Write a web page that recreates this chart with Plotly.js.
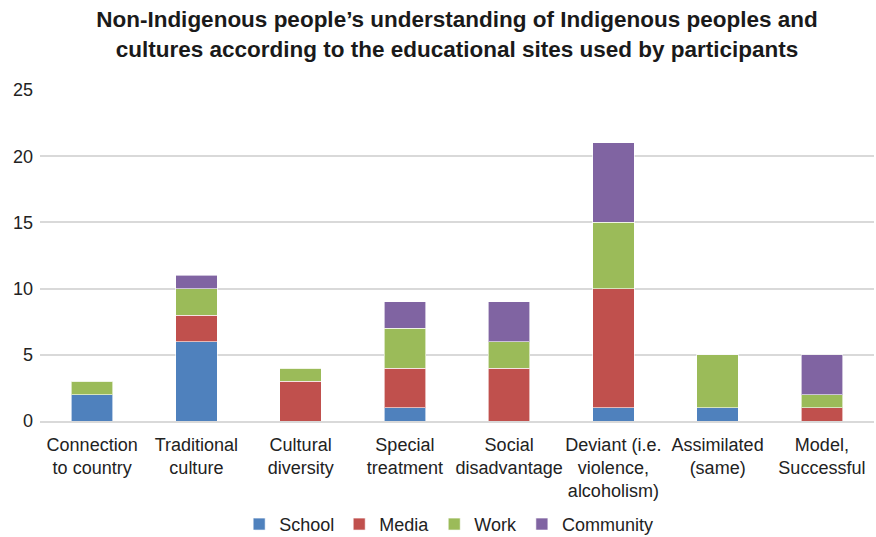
<!DOCTYPE html>
<html><head><meta charset="utf-8">
<script src="https://cdn.plot.ly/plotly-3.0.1.min.js"></script>
<style>html,body{margin:0;padding:0;background:#fff}#chart{width:876px;height:537px}</style>
</head><body><div id="chart"></div>
<script>
const categories = ["Connection<br>to country","Traditional<br>culture","Cultural<br>diversity","Special<br>treatment","Social<br>disadvantage","Deviant (i.e.<br>violence,<br>alcoholism)","Assimilated<br>(same)","Model,<br>Successful"];
const school    = [2,6,0,1,0,1,1,0];
const media     = [0,2,3,3,4,9,0,1];
const work      = [1,2,1,3,2,5,4,1];
const community = [0,1,0,2,3,6,0,3];
const seriesNames = ["School","Media","Work","Community"];
const colors = ["#4F81BD","#C0504D","#9BBB59","#8064A2"];
const values = [school, media, work, community];

const font = "Liberation Sans, Arial, sans-serif";
const traces = values.map((v,i)=>({
  type:"bar", name:seriesNames[i], x:categories, y:v,
  marker:{color:colors[i], line:{color:"rgba(255,255,255,0.6)", width:1}}
}));
const layout = {
  width:876, height:537,
  margin:{l:40, r:2, t:90, b:116},
  barmode:"stack", bargap:0.6,
  paper_bgcolor:"#fff", plot_bgcolor:"#fff",
  title:{text:"<b>Non-Indigenous people’s understanding of Indigenous peoples and<br>cultures according to the educational sites used by participants</b>",
    font:{family:font, size:22.5, color:"#1a1a1a"}, x:0.5, xanchor:"center", xref:"paper", yref:"container", y:0.949, yanchor:"middle"},
  xaxis:{type:"category", automargin:false, tickfont:{family:font, size:18, color:"#222"}, showline:true, linecolor:"#D9D9D9", linewidth:2, ticks:"", tickangle:0, ticklabelstandoff:6},
  yaxis:{range:[0,25], dtick:5, automargin:false, tickfont:{family:font, size:18, color:"#222"}, gridcolor:"#D9D9D9", gridwidth:2, zeroline:false, ticks:"", ticklabelstandoff:6},
  legend:{orientation:"h", x:0.49, xanchor:"center", xref:"paper", yref:"container", y:0.058, yanchor:"top", font:{family:font, size:18, color:"#222"}, itemwidth:30, traceorder:"normal"},
  showlegend:true
};
Plotly.newPlot("chart", traces, layout, {staticPlot:true});
</script></body></html>
